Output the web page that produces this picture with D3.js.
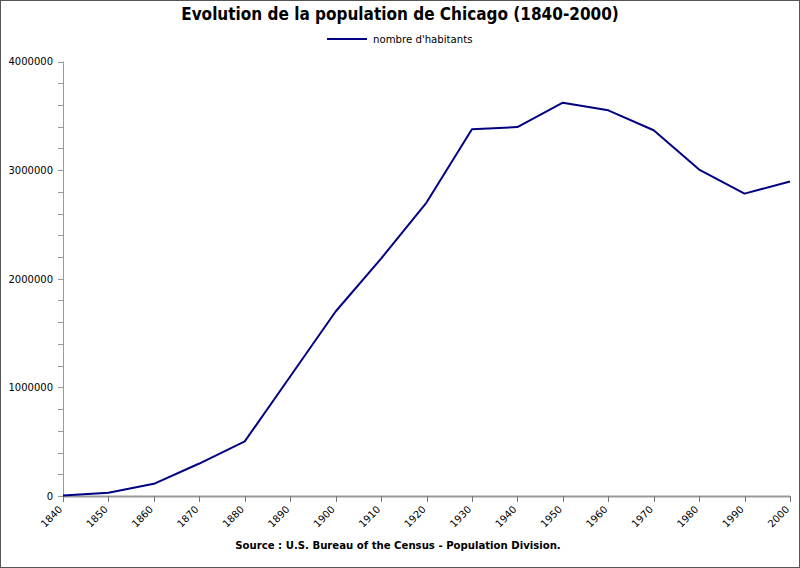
<!DOCTYPE html>
<html><head><meta charset="utf-8">
<script src="https://cdn.jsdelivr.net/npm/d3@7"></script>
<style>
body{margin:0;background:#fff;}
svg{display:block;}
</style></head>
<body>
<svg id="c" width="800" height="568"></svg>
<script>
const years = [1840,1850,1860,1870,1880,1890,1900,1910,1920,1930,1940,1950,1960,1970,1980,1990,2000];
const population = [4470,29963,112172,298977,503185,1099850,1698575,2185283,2701705,3376438,3396808,3620962,3550404,3366957,3005072,2783726,2896016];
const yTicks = [0,1000000,2000000,3000000,4000000];
const title = "Evolution de la population de Chicago (1840-2000)";
const seriesName = "nombre d'habitants";
const source = "Source : U.S. Bureau of the Census - Population Division.";

const svg = d3.select("#c");
svg.append("rect").attr("x",0.5).attr("y",0.5).attr("width",799).attr("height",567)
  .attr("fill","#fff").attr("stroke","#555").attr("stroke-width",1);

const x = d3.scaleLinear().domain([1840,2000]).range([63,790]);
const y = d3.scaleLinear().domain([0,4000000]).range([496,61.5]);

const axisColor = "#999";
const minor = d3.range(0,4000001,200000);
svg.append("g").selectAll("line").data(minor).join("line")
  .attr("x1",58).attr("x2",63).attr("y1",d=>Math.round(y(d))+0.5).attr("y2",d=>Math.round(y(d))+0.5)
  .attr("stroke",axisColor).attr("stroke-width",1);
svg.append("line").attr("x1",63.5).attr("x2",63.5).attr("y1",y(4000000)).attr("y2",y(0))
  .attr("stroke",axisColor).attr("stroke-width",1);
svg.append("g").selectAll("text").data(yTicks).join("text")
  .attr("x",53).attr("y",d=>y(d)+3.8).attr("text-anchor","end")
  .attr("font-family","DejaVu Sans").attr("font-size",10).attr("fill","#000")
  .text(d=>d3.format("d")(d));

svg.append("line").attr("x1",x(1840)).attr("x2",x(2000)).attr("y1",496.5).attr("y2",496.5)
  .attr("stroke",axisColor).attr("stroke-width",2);
svg.append("g").selectAll("line").data(years).join("line")
  .attr("x1",d=>Math.round(x(d))+0.5).attr("x2",d=>Math.round(x(d))+0.5).attr("y1",496).attr("y2",502)
  .attr("stroke","#777").attr("stroke-width",1);
svg.append("g").selectAll("text").data(years).join("text")
  .attr("transform",d=>`translate(${x(d)},${510}) rotate(-45)`)
  .attr("text-anchor","end")
  .attr("font-family","DejaVu Sans").attr("font-size",10).attr("fill","#000")
  .text(d=>d);

const line = d3.line().x((d,i)=>x(years[i])).y(d=>y(d));
svg.append("path").datum(population).attr("d",line)
  .attr("fill","none").attr("stroke","#000080").attr("stroke-width",2).attr("stroke-linejoin","round");

svg.append("text").attr("x",400).attr("y",20).attr("text-anchor","middle")
  .attr("font-family","DejaVu Sans Condensed, DejaVu Sans").attr("font-stretch","condensed")
  .attr("font-weight","bold").attr("font-size",17).text(title);

svg.append("line").attr("x1",327).attr("x2",367).attr("y1",39).attr("y2",39)
  .attr("stroke","#000080").attr("stroke-width",2);
svg.append("text").attr("x",373).attr("y",43).attr("font-family","DejaVu Sans Condensed, DejaVu Sans")
  .attr("font-stretch","condensed").attr("font-size",11.3).text(seriesName);

svg.append("text").attr("x",398).attr("y",549).attr("text-anchor","middle")
  .attr("font-family","DejaVu Sans").attr("font-weight","bold").attr("font-size",10.15).text(source);
</script>
</body></html>
